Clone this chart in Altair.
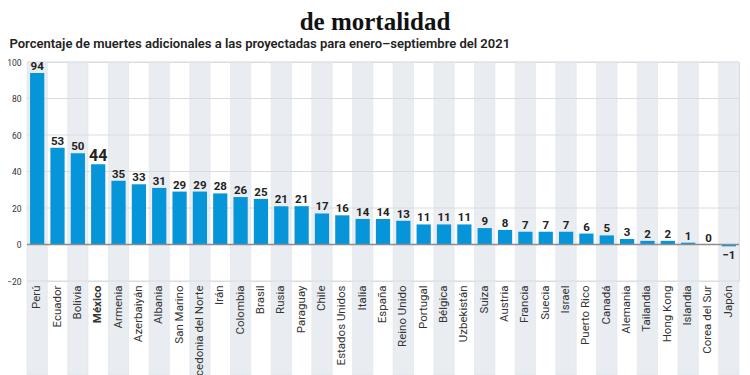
import altair as alt
import pandas as pd

paises = ["Perú", "Ecuador", "Bolivia", "México", "Armenia", "Azerbaiyán", "Albania",
          "San Marino", "Macedonia del Norte", "Irán", "Colombia", "Brasil", "Rusia",
          "Paraguay", "Chile", "Estados Unidos", "Italia", "España", "Reino Unido",
          "Portugal", "Bélgica", "Uzbekistán", "Suiza", "Austria", "Francia", "Suecia",
          "Israel", "Puerto Rico", "Canadá", "Alemania", "Tailandia", "Hong Kong",
          "Islandia", "Corea del Sur", "Japón"]
valores = [94, 53, 50, 44, 35, 33, 31, 29, 29, 28, 26, 25, 21, 21, 17, 16, 14, 14, 13,
           11, 11, 11, 9, 8, 7, 7, 7, 6, 5, 3, 2, 2, 1, 0, -1]
y_ticks = [-20, 0, 20, 40, 60, 80, 100]

TITLE = "de mortalidad"
SUBTITLE = "Porcentaje de muertes adicionales a las proyectadas para enero–septiembre del 2021"

df = pd.DataFrame({"pais": paises, "valor": valores})
df["banda"] = [i % 2 == 0 for i in range(len(paises))]
grid_df = pd.DataFrame({"t": y_ticks})

SANS = "Liberation Sans Narrow, Roboto, sans-serif"

xscale = alt.Scale(domain=paises, paddingInner=0, paddingOuter=0)
yscale = alt.Scale(domain=[-20, 100], nice=False)

yaxis = alt.Axis(values=y_ticks, grid=False, domain=False, ticks=False,
                 labelFont=SANS, labelFontSize=8.5, labelColor="#333333",
                 labelPadding=6, labelOverlap=False, labelFlush=False,
                 title=SUBTITLE, titleFont=SANS, titleFontSize=13,
                 titleFontWeight=600, titleColor="#222222", titleAngle=0,
                 titleAlign="left", titleBaseline="alphabetic",
                 titleX=-18, titleY=-15)

x_enc = alt.X("pais:N", scale=xscale, sort=paises,
              axis=alt.Axis(title=None, labelAngle=-90, labelFont=SANS, labelFontSize=11.5,
                            labelColor="#333333", ticks=False, domain=False, labelPadding=4,
                            labelLimit=200, zindex=1,
                            labelFontWeight=alt.ExprRef("datum.value === 'México' ? 'bold' : 'normal'")))

bands = alt.Chart(df).transform_filter("datum.banda").mark_rect(
    color="#e9edf2", stroke="#dfe4ea", strokeWidth=0.6
).encode(x=x_enc, y=alt.value(0), y2=alt.value(313))

grid = alt.Chart(grid_df).mark_rule(color="#d9dcdf", strokeWidth=1).encode(
    y=alt.Y("t:Q", scale=yscale, axis=yaxis))

bars = alt.Chart(df).mark_bar(color="#0795d9", width=alt.RelativeBandSize(0.7)).encode(
    x=alt.X("pais:N", scale=xscale, sort=paises),
    y=alt.Y("valor:Q", scale=yscale, axis=yaxis),
    y2=alt.datum(0))

zero = alt.Chart(pd.DataFrame({"z": [0]})).mark_rule(color="#8a8d90", strokeWidth=1.5).encode(
    y=alt.Y("z:Q", scale=yscale, axis=yaxis))

lbl_pos = alt.Chart(df).transform_filter("datum.valor >= 0").mark_text(
    baseline="alphabetic", dy=-3, font=SANS, fontWeight="bold", color="#222222"
).encode(
    x=alt.X("pais:N", scale=xscale, sort=paises),
    y=alt.Y("valor:Q", scale=yscale, axis=yaxis),
    text="valor:Q",
    size=alt.condition("datum.pais === 'México'", alt.value(16), alt.value(11.5)))

lbl_neg = alt.Chart(df).transform_filter("datum.valor < 0").mark_text(
    baseline="top", dy=4, font=SANS, fontWeight="bold", color="#222222", fontSize=11.5
).encode(
    x=alt.X("pais:N", scale=xscale, sort=paises),
    y=alt.Y("valor:Q", scale=yscale, axis=yaxis),
    text="valor:Q")

chart = alt.layer(bands, grid, bars, zero, lbl_pos, lbl_neg).properties(
    width=712, height=219,
    autosize=alt.AutoSizeParams(type="none"),
    padding={"left": 19, "top": 54, "right": 3, "bottom": 100},
    title=alt.TitleParams(TITLE, anchor="middle", frame="group", font="Liberation Serif",
                          fontSize=25, fontWeight="bold", color="#111111", dx=-8, dy=2,
                          offset=4),
).configure_view(stroke=None).configure(background="white").configure_axisY(labelOverlap=False)

chart.save("out.html", embed_options={"renderer": "svg", "actions": False})
